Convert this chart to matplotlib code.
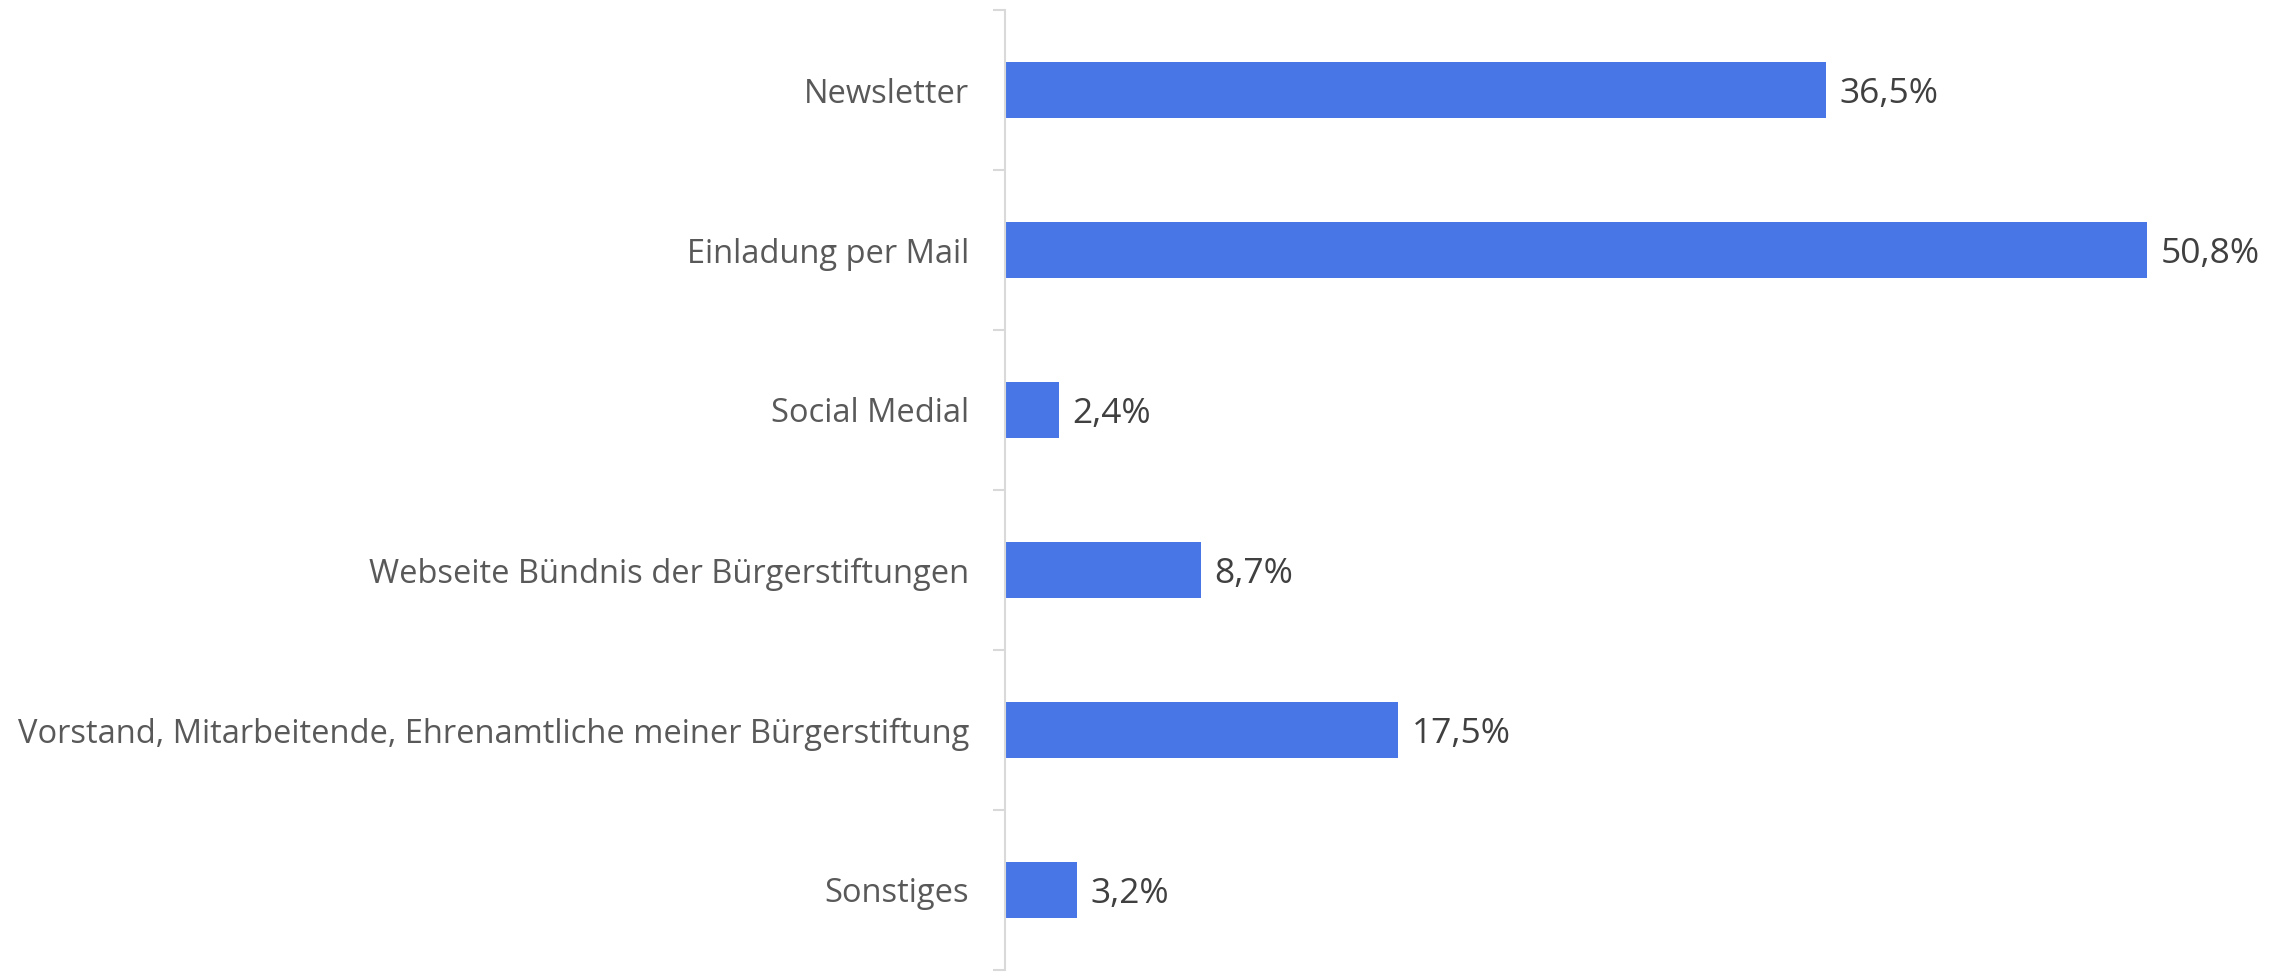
import matplotlib
matplotlib.use("Agg")
import matplotlib.pyplot as plt
import numpy as np

categories = [
    "Newsletter",
    "Einladung per Mail",
    "Social Medial",
    "Webseite Bündnis der Bürgerstiftungen",
    "Vorstand, Mitarbeitende, Ehrenamtliche meiner Bürgerstiftung",
    "Sonstiges",
]
values = [36.5, 50.8, 2.4, 8.7, 17.5, 3.2]
value_labels = ["36,5%", "50,8%", "2,4%", "8,7%", "17,5%", "3,2%"]

BAR_COLOR = "#4876E6"
AXIS_COLOR = "#D9D9D9"

plt.rcParams["font.family"] = ["Open Sans", "DejaVu Sans"]

fig = plt.figure(figsize=(22.83, 9.74), dpi=100)
ax = fig.add_axes([1005 / 2283, 4 / 974, 1 - 1005 / 2283, 960 / 974])

y = np.arange(len(categories))
ax.barh(y, values, height=0.35, color=BAR_COLOR)

for yi, v, lab in zip(y, values, value_labels):
    ax.text(v + 0.6, yi, lab, va="center_baseline", ha="left", fontsize=25.5, color="#404040")

ax.set_xlim(0, 56.85)
ax.set_ylim(len(categories) - 0.5, -0.5)

ax.set_yticks(y)
ax.set_yticklabels(categories, fontsize=23.5, color="#595959", va="center_baseline")
ax.tick_params(axis="y", which="major", length=0, pad=26)
ax.set_yticks(np.arange(len(categories) + 1) - 0.5, minor=True)
ax.tick_params(axis="y", which="minor", length=8.6, width=1.5, color=AXIS_COLOR)
ax.set_xticks([])

for s in ["top", "right", "bottom"]:
    ax.spines[s].set_visible(False)
ax.spines["left"].set_color(AXIS_COLOR)
ax.spines["left"].set_linewidth(1.5)

fig.savefig("out.png", dpi=100)
